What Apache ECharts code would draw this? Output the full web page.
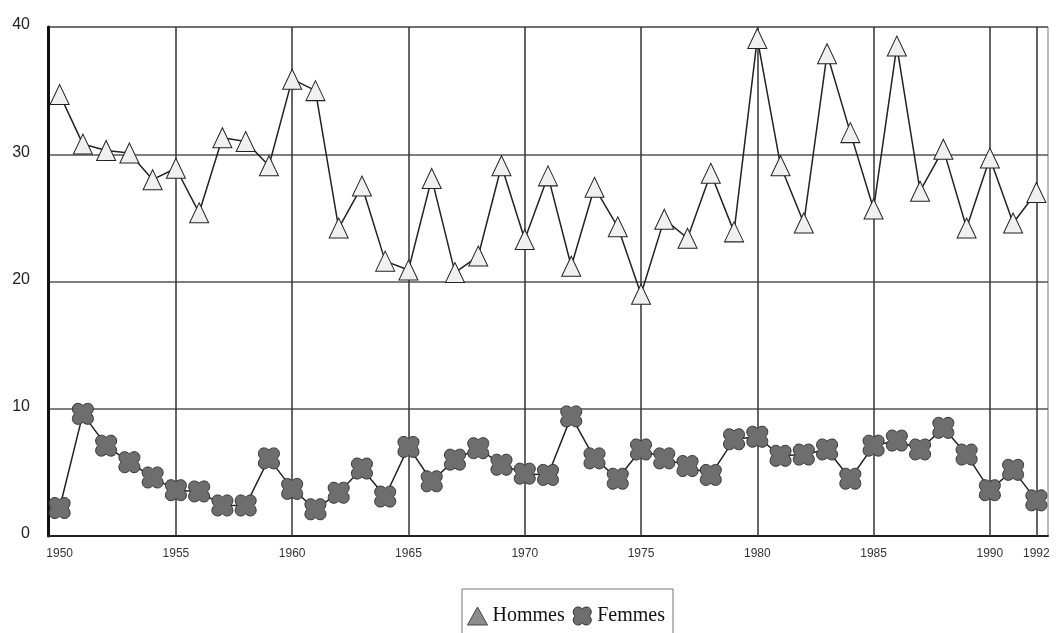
<!DOCTYPE html>
<html>
<head>
<meta charset="utf-8">
<script src="https://cdn.jsdelivr.net/npm/echarts@6/dist/echarts.min.js"></script>
<style>html,body{margin:0;padding:0;background:#fff}#c{width:1056px;height:633px}</style>
</head>
<body>
<div id="c"></div>
<script>
const years = ['1950','1951','1952','1953','1954','1955','1956','1957','1958','1959',
  '1960','1961','1962','1963','1964','1965','1966','1967','1968','1969',
  '1970','1971','1972','1973','1974','1975','1976','1977','1978','1979',
  '1980','1981','1982','1983','1984','1985','1986','1987','1988','1989',
  '1990','1991','1992'];
const hommes = [34.7,30.8,30.3,30.1,28.0,28.9,25.4,31.3,31.0,29.1,
  35.9,35.0,24.2,27.5,21.6,20.9,28.1,20.7,22.0,29.1,
  23.3,28.3,21.2,27.4,24.3,19.0,24.9,23.4,28.5,23.9,
  39.1,29.1,24.6,37.9,31.7,25.7,38.5,27.1,30.4,24.2,
  29.7,24.6,27.0];
const femmes = [2.2,9.6,7.1,5.8,4.6,3.6,3.5,2.4,2.4,6.1,
  3.7,2.1,3.4,5.3,3.1,7.0,4.3,6.0,6.9,5.6,
  4.9,4.8,9.4,6.1,4.5,6.8,6.1,5.5,4.8,7.6,
  7.8,6.3,6.4,6.8,4.5,7.1,7.5,6.8,8.5,6.4,
  3.6,5.2,2.8];
const labelYears = ['1950','1955','1960','1965','1970','1975','1980','1985','1990','1992'];
const gridYears = ['1955','1960','1965','1970','1975','1980','1985','1990','1992'];
const yTicks = [0,10,20,30,40];

const femmesPath = 'path://M10,2.5 C12.5,0 16,0 18,2 C20,4 20,7.5 17.5,10 C20,12.5 20,16 18,18 C16,20 12.5,20 10,17.5 C7.5,20 4,20 2,18 C0,16 0,12.5 2.5,10 C0,7.5 0,4 2,2 C4,0 7.5,0 10,2.5 Z';

const chart = echarts.init(document.getElementById('c'), null, {renderer:'canvas'});
chart.setOption({
  animation:false,
  backgroundColor:'#fff',
  grid:{left:48,right:8,top:27,bottom:97,show:true,borderColor:'#777',borderWidth:1},
  legend:{
    left:462, top:589,
    orient:'horizontal',
    padding:[17,8,40,5],
    itemGap:8,
    itemWidth:20, itemHeight:18,
    borderColor:'#777', borderWidth:1,
    textStyle:{fontFamily:'Liberation Serif',fontSize:20,color:'#111'},
    data:[
      {name:'Hommes',icon:'triangle',itemStyle:{color:'#8c8c8c',borderColor:'#444',borderWidth:1}},
      {name:'Femmes',icon:femmesPath,itemStyle:{color:'#6e6e6e',borderColor:'#333',borderWidth:1}}
    ]
  },
  xAxis:{
    type:'category',
    data:years,
    boundaryGap:true,
    axisLine:{show:true,lineStyle:{color:'#222',width:2}},
    axisTick:{show:false},
    splitLine:{show:false},
    axisLabel:{
      interval:function(i,v){return labelYears.indexOf(v)>=0;},
      fontFamily:'Liberation Sans',fontSize:12,color:'#333',margin:12
    }
  },
  yAxis:{
    type:'value',min:yTicks[0],max:yTicks[yTicks.length-1],interval:10,
    axisLine:{show:true,lineStyle:{color:'#111',width:3}},
    axisTick:{show:false},
    splitLine:{show:true,lineStyle:{color:'#555',width:1.5}},
    axisLabel:{fontFamily:'Liberation Sans',fontSize:16,color:'#222',margin:18,verticalAlign:'bottom',padding:[0,0,-6,0]}
  },
  series:[
    {
      name:'Hommes',type:'line',data:hommes,
      showAllSymbol:true,
      symbol:'triangle',symbolSize:[19,20],
      lineStyle:{color:'#222',width:1.5},
      itemStyle:{color:'#f0f0f0',borderColor:'#222',borderWidth:1},
      z:3,
      markLine:{
        silent:true,symbol:'none',z:1,
        label:{show:false},
        lineStyle:{color:'#333',width:1.5,type:'solid'},
        data:gridYears.map(function(y){return {xAxis:y};})
      }
    },
    {
      name:'Femmes',type:'line',data:femmes,
      showAllSymbol:true,
      symbol:femmesPath,symbolSize:21,
      lineStyle:{color:'#222',width:1.5},
      itemStyle:{color:'#6e6e6e',borderColor:'#333',borderWidth:1},
      z:3
    }
  ]
});
</script>
</body>
</html>
